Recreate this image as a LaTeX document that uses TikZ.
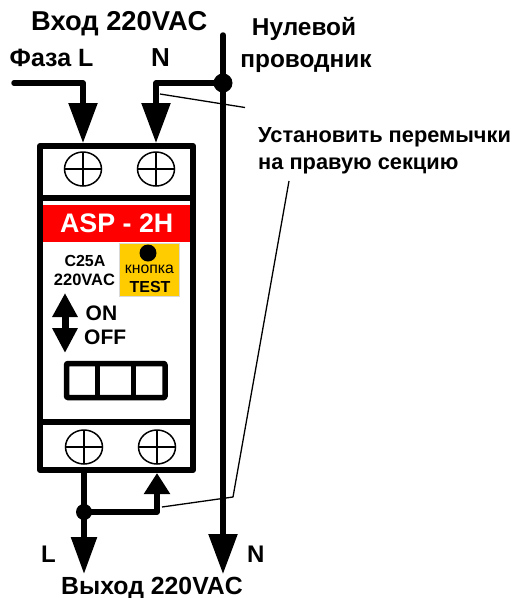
\documentclass[tikz,border=0pt]{standalone}
\usepackage{fontspec}
\setmainfont{Liberation Sans}
\usetikzlibrary{arrows.meta,shapes.geometric,calc}
\definecolor{btnyellow}{HTML}{FFCC00}
\tikzset{
  wire/.style={line width=5.5pt,line join=round,line cap=round},
  bigtip/.style={-{Triangle[length=40pt,width=28pt]}},
  midtip/.style={-{Triangle[length=37pt,width=25pt]}},
  leader/.style={line width=1.3pt,line join=round},
  heavy/.style={draw,line width=6pt,line join=round,inner sep=0pt},
  screw/.style={ellipse,draw,line width=1.5pt,minimum width=37pt,minimum height=34pt,inner sep=0pt,
    path picture={\draw[line width=1.5pt] (path picture bounding box.west)--(path picture bounding box.east)
      (path picture bounding box.north)--(path picture bounding box.south);}},
  joint/.style={circle,fill=black,inner sep=0pt},
  lab/.style={inner sep=0pt,anchor=base west},
}
\newcommand{\bfs}[1]{\fontsize{#1}{#1}\bfseries\selectfont}
\begin{document}
\begin{tikzpicture}[x=1pt,y=-1pt]
\useasboundingbox (0,0) rectangle (515,598);
% module
\node[heavy,rectangle,minimum width=153pt,minimum height=324pt] (box) at (116.5,308) {};
\node[screw] (s1) at (83,169) {};
\node[screw] (s2) at (156,169) {};
\node[screw] (s3) at (84,447) {};
\node[screw] (s4) at (157,447) {};
\coordinate (divT1) at (40,198); \coordinate (divT2) at (193,198);
\coordinate (divB1) at (40,422); \coordinate (divB2) at (193,422);
\draw[line width=5.5pt] (divT1)--(divT2) (divB1)--(divB2);
% red label
\node[fill=red,minimum width=147pt,minimum height=37pt,inner sep=0pt,anchor=north west,text=white,font=\bfs{26.8}] (red) at (43,205) {ASP - 2H};
% yellow
\node[fill=btnyellow,draw=black!15,line width=0.7pt,minimum width=60pt,minimum height=53pt,inner sep=0pt,anchor=north west] (yel) at (118.5,243) {};
\node[joint,minimum size=17pt] (btn) at (148,253) {};
\node[inner sep=0pt,anchor=base,font=\fontsize{15.8}{16}\selectfont] (kn) at (149.5,273) {кнопка};
\node[inner sep=0pt,anchor=base,font=\bfs{16}] (test) at (150,292) {TEST};
\node[lab,anchor=base,font=\bfs{16}] (c25) at (85,266) {C25A};
\node[lab,anchor=base,font=\bfs{16.5}] (v220) at (84.5,285) {220VAC};
% double arrow
\coordinate (dU) at (65,293); \coordinate (dD) at (65,353);
\draw[line width=7pt,{Triangle[length=24pt,width=24pt]}-{Triangle[length=25pt,width=24pt]}] (dU)--(dD);
\node[lab,font=\bfs{21}] (on) at (85.5,320) {ON};
\node[lab,font=\bfs{21}] (off) at (84,344) {OFF};
% switch
\node[heavy,rectangle,rounded corners=1pt,line width=5.5pt,minimum width=98.5pt,minimum height=34pt] (sw) at (115.75,380.5) {};
\draw[line width=5pt] (97,363.5)--(97,397.5) (133,363.5)--(133,397.5);
% wires
\coordinate (phase) at (14,83);
\coordinate (Ntop) at (223,35);
\coordinate (Nbot) at (223,574);
\coordinate (Lbot) at (84,574);
\node[joint,minimum size=19pt] (jN) at (223,83) {};
\node[joint,minimum size=16pt] (jL) at (84,512) {};
\draw[wire,bigtip] (Ntop)--(Nbot);
\draw[wire,bigtip] (phase) -| (s1.center |- box.north);
\draw[wire,bigtip] (jN.center) -| (s2.center |- box.north);
\draw[wire,midtip] (s3.center |- box.south) -- (Lbot);
\draw[wire,-{Triangle[length=21pt,width=25pt]}] (jL.center) -| (s4.center |- box.south);
% labels
\node[lab,font=\bfs{27.3}] (in) at (31,30) {Вход 220VAC};
\node[lab,font=\bfs{25}] (faza) at (9.5,66) {Фаза L};
\node[lab,font=\bfs{26}] (Nin) at (151,66) {N};
\node[lab,anchor=base,font=\bfs{24.4}] (nul1) at (304,35) {Нулевой};
\node[lab,anchor=base,font=\bfs{24.4}] (nul2) at (306,67) {проводник};
\node[lab,font=\bfs{21.8}] (set1) at (258,142) {Установить перемычки};
\node[lab,font=\bfs{21.8}] (set2) at (258,169) {на правую секцию};
\node[lab,font=\bfs{24}] (Lout) at (41,562) {L};
\node[lab,font=\bfs{24}] (Nout) at (247,562) {N};
\node[lab,font=\bfs{24.8}] (out) at (61,594) {Выход 220VAC};
% leaders
\coordinate (lead1a) at (160,94); \coordinate (lead1b) at (245,107.5);
\coordinate (lead2a) at (162,507); \coordinate (lead2b) at (233,497); \coordinate (lead2c) at (289,181);
\draw[leader] (lead1a)--(lead1b);
\draw[leader] (lead2a)--(lead2b)--(lead2c);
\end{tikzpicture}
\end{document}
